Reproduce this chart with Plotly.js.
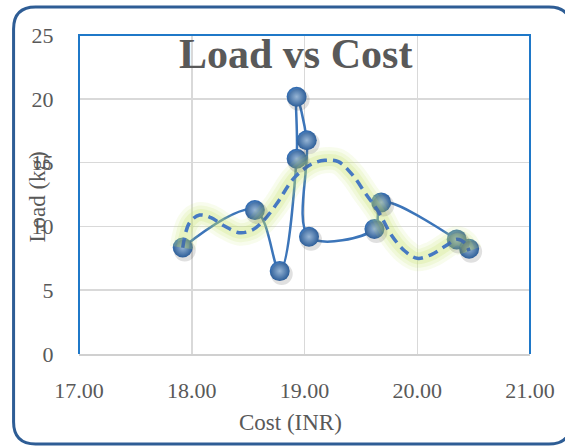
<!DOCTYPE html>
<html>
<head>
<meta charset="utf-8">
<script src="https://cdn.plot.ly/plotly-3.0.1.min.js"></script>
<style>
  html, body { margin: 0; padding: 0; background: #ffffff; }
  #chart { width: 565px; height: 446px; }
</style>
</head>
<body>
<div id="chart"></div>
<script>
// Series: Cost (INR) vs Load (kg), in plotting order
const costINR = [17.92, 18.56, 18.78, 18.93, 18.93, 19.02, 19.04, 19.62, 19.68, 20.35, 20.46];
const loadKg  = [8.35, 11.28, 6.5, 15.3, 20.16, 16.75, 9.19, 9.8, 11.88, 8.98, 8.25];

// Trendline
const trendX = [17.92, 17.98, 18.07, 18.17, 18.29, 18.42, 18.53, 18.62, 18.75, 18.91, 19.06, 19.18, 19.30, 19.42, 19.54, 19.66, 19.77, 19.89, 20.00, 20.13, 20.25, 20.35, 20.42, 20.46];
const trendY = [8.33, 10.29, 10.89, 10.68, 10.03, 9.51, 9.69, 10.29, 11.73, 13.82, 14.87, 15.18, 15.07, 14.1, 12.6, 11.09, 9.33, 8.07, 7.5, 7.81, 8.46, 8.99, 8.72, 8.07];

const xTicks = [17, 18, 19, 20, 21];
const xTickText = ['17.00', '18.00', '19.00', '20.00', '21.00'];
const yTicks = [0, 5, 10, 15, 20, 25];

const FONT = 'Liberation Serif, Times New Roman, serif';
const GREY = '#595959';

// plot area pixel geometry: l=78.5, w=451.5, t=35, b=354 (h=319)
const W = 451.5, H = 319, L = 78.5, B = 354;
const xPerPx = 4 / W, yPerPx = 25 / H;

const glow = (w, a) => ({
  x: trendX, y: trendY, type: 'scatter', mode: 'lines',
  line: { color: 'rgba(200,228,110,' + a + ')', width: w, shape: 'spline', smoothing: 1 },
  hoverinfo: 'skip', showlegend: false
});

const traces = [
  // soft drop shadow of the markers (same data, offset axes)
  {
    x: costINR, y: loadKg, type: 'scatter', mode: 'markers',
    xaxis: 'x2', yaxis: 'y2',
    marker: { size: 22, color: 'rgba(60,60,60,0.16)', line: { width: 0 } },
    hoverinfo: 'skip', showlegend: false
  },
  {
    x: costINR, y: loadKg, type: 'scatter', mode: 'lines+markers',
    line: { color: '#3C75B9', width: 2.5, shape: 'spline', smoothing: 1 },
    marker: { size: 20, color: '#2A64AA', line: { width: 0 },
              gradient: { type: 'radial', color: '#A8CCF2' } },
    hoverinfo: 'skip', showlegend: false
  },
  glow(26, 0.12),
  glow(19, 0.16),
  glow(12, 0.22),
  {
    x: trendX, y: trendY, type: 'scatter', mode: 'lines',
    line: { color: '#4679C2', width: 3.5, shape: 'spline', smoothing: 1, dash: '10px,6px' },
    hoverinfo: 'skip', showlegend: false
  }
];

function px(x) { return (x - L) / W; }
function py(y) { return (B - y) / H; }
const x0 = px(13), x1 = px(571), yt = py(7), yb = py(444);
const rx = 22 / W, ry = 22 / H;
const roundPath = 'M ' + (x0 + rx) + ',' + yt +
  ' L ' + (x1 - rx) + ',' + yt +
  ' Q ' + x1 + ',' + yt + ' ' + x1 + ',' + (yt - ry) +
  ' L ' + x1 + ',' + (yb + ry) +
  ' Q ' + x1 + ',' + yb + ' ' + (x1 - rx) + ',' + yb +
  ' L ' + (x0 + rx) + ',' + yb +
  ' Q ' + x0 + ',' + yb + ' ' + x0 + ',' + (yb + ry) +
  ' L ' + x0 + ',' + (yt - ry) +
  ' Q ' + x0 + ',' + yt + ' ' + (x0 + rx) + ',' + yt + ' Z';

const layout = {
  width: 565, height: 446,
  margin: { l: 78.5, r: 35, t: 35, b: 92, pad: 0 },
  paper_bgcolor: '#ffffff', plot_bgcolor: '#ffffff',
  font: { family: FONT, color: GREY, size: 22 },
  xaxis: {
    range: [17, 21], tickvals: xTicks, ticktext: xTickText,
    showgrid: true, gridcolor: '#d9d9d9', gridwidth: 1.5,
    zeroline: false, showline: true, linecolor: '#d0d0d0', linewidth: 2,
    ticks: 'outside', ticklen: 16, tickcolor: 'rgba(0,0,0,0)',
    tickfont: { family: FONT, color: GREY, size: 22 }, fixedrange: true
  },
  yaxis: {
    range: [0, 25], tickvals: yTicks,
    showgrid: true, gridcolor: '#d9d9d9', gridwidth: 1.5,
    zeroline: false, showline: false,
    ticks: 'outside', ticklen: 20, tickcolor: 'rgba(0,0,0,0)',
    tickfont: { family: FONT, color: GREY, size: 22 }, fixedrange: true
  },
  xaxis2: {
    overlaying: 'x', range: [17 - 2 * xPerPx, 21 - 2 * xPerPx], visible: false, fixedrange: true
  },
  yaxis2: {
    overlaying: 'y', range: [3 * yPerPx, 25 + 3 * yPerPx], visible: false, fixedrange: true
  },
  shapes: [
    { type: 'path', xref: 'paper', yref: 'paper', path: 'M 0,0 L 0,1 L 1,1 L 1,0',
      line: { color: '#1F78C8', width: 2 }, layer: 'above' },
    { type: 'path', xref: 'paper', yref: 'paper', path: roundPath,
      line: { color: '#2E5D95', width: 3 }, layer: 'above' }
  ],
  annotations: [
    { text: '<b>Load vs Cost</b>', xref: 'paper', yref: 'paper', x: px(295), y: py(54),
      xanchor: 'center', yanchor: 'middle', showarrow: false,
      font: { family: FONT, size: 42, color: GREY } },
    { text: 'Cost (INR)', xref: 'paper', yref: 'paper', x: px(290), y: py(422),
      xanchor: 'center', yanchor: 'middle', showarrow: false,
      font: { family: FONT, size: 23, color: GREY } },
    { text: 'Load (kg)', xref: 'paper', yref: 'paper', x: px(36), y: py(197),
      xanchor: 'center', yanchor: 'middle', showarrow: false, textangle: -90,
      font: { family: FONT, size: 23, color: GREY } }
  ]
};

Plotly.newPlot('chart', traces, layout, { displayModeBar: false, staticPlot: true });
</script>
</body>
</html>
